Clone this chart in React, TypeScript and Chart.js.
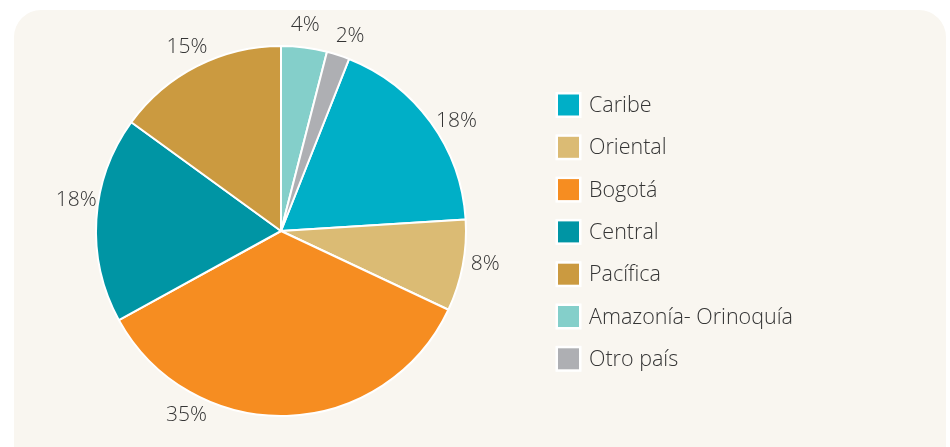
import React, { useEffect, useRef } from "react";
import { Chart, registerables } from "chart.js";

Chart.register(...registerables);

const regions = ["Caribe", "Oriental", "Bogotá", "Central", "Pacífica", "Amazonía- Orinoquía", "Otro país"];
const shares = [18, 8, 35, 18, 15, 4, 2];
const colors = ["#00afc7", "#dbbb74", "#f68d21", "#0095a4", "#cb9a40", "#84cfca", "#aeafb3"];

const FONT = "'Open Sans', 'Noto Sans', sans-serif";
const TEXT = "#353535";

const labelsPlugin = {
  id: "pctLabels",
  afterDatasetsDraw(chart: any, _args: any, opts: any) {
    const meta = chart.getDatasetMeta(0);
    const ctx = chart.ctx;
    ctx.save();
    ctx.font = `300 21px ${FONT}`;
    ctx.fillStyle = TEXT;
    ctx.textAlign = "center";
    ctx.textBaseline = "middle";
    const ds = chart.data.datasets[0];
    meta.data.forEach((arc: any, i: number) => {
      const p = arc.getProps(["x", "y", "startAngle", "endAngle", "outerRadius"], true);
      const shift = ((opts.angleShift && opts.angleShift[i]) || 0) * Math.PI / 180;
      const a = (p.startAngle + p.endAngle) / 2 + shift;
      const d = p.outerRadius + opts.gap;
      ctx.fillText(ds.data[i] + "%", p.x + Math.cos(a) * d, p.y + Math.sin(a) * d);
    });
    ctx.restore();
  },
};

const legendPlugin = {
  id: "sideLegend",
  afterDraw(chart: any, _args: any, opts: any) {
    const ctx = chart.ctx;
    const ds = chart.data.datasets[0];
    ctx.save();
    ctx.font = `300 21.5px ${FONT}`;
    ctx.textBaseline = "middle";
    ctx.textAlign = "left";
    chart.data.labels.forEach((lab: string, i: number) => {
      const cy = opts.top + i * opts.step;
      ctx.fillStyle = "#ffffff";
      ctx.fillRect(opts.left - 2.5, cy - 10.5 - 2.5, 26, 26);
      ctx.fillStyle = ds.backgroundColor[i];
      ctx.fillRect(opts.left, cy - 10.5, 21, 21);
      ctx.fillStyle = TEXT;
      ctx.fillText(lab, opts.left + 31, cy + 1);
    });
    ctx.restore();
  },
};

export default function App() {
  const ref = useRef<HTMLCanvasElement | null>(null);
  useEffect(() => {
    if (!ref.current) return;
    const chart = new Chart(ref.current, {
      type: "pie",
      data: {
        labels: regions,
        datasets: [
          {
            data: shares,
            backgroundColor: colors,
            borderColor: "#ffffff",
            borderWidth: 2,
            hoverOffset: 0,
          },
        ],
      },
      options: {
        animation: false,
        responsive: false,
        rotation: 21.6,
        radius: 185,
        layout: { padding: { left: 40, right: 428, top: 25, bottom: 10 } },
        plugins: {
          legend: { display: false },
          tooltip: { enabled: false },
          pctLabels: { gap: 22, angleShift: [4, -1.5, 29, 5, 0, -0.5, 1.5] },
          sideLegend: { left: 558, top: 105, step: 42.3 },
        } as any,
      },
      plugins: [labelsPlugin, legendPlugin],
    });
    return () => chart.destroy();
  }, []);

  return (
    <div style={{ position: "fixed", left: 0, top: 0, width: 950, height: 447, background: "#ffffff", overflow: "hidden" }}>
      <div
        style={{
          position: "absolute",
          left: 14,
          top: 10,
          width: 932,
          height: 480,
          borderRadius: 27,
          background: "#f9f6f0",
        }}
      />
      <canvas ref={ref} width={950} height={447} style={{ position: "absolute", left: 0, top: 0 }} />
    </div>
  );
}
